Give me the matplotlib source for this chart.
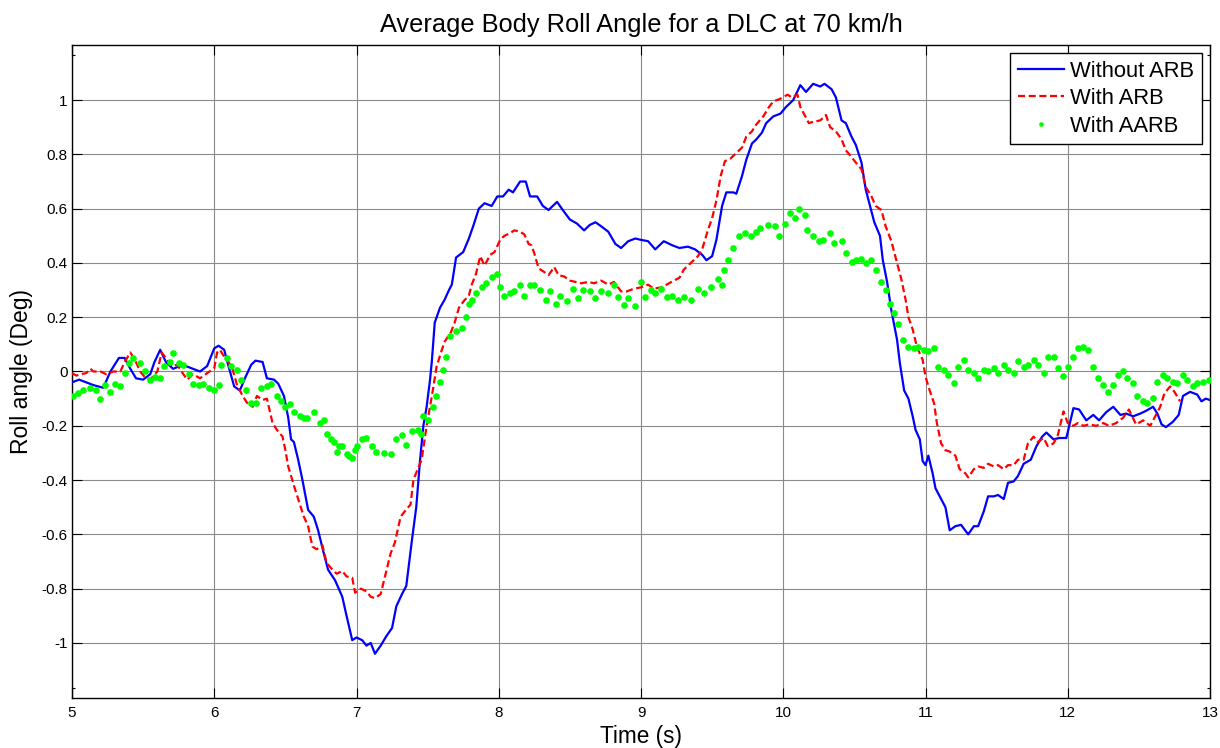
import matplotlib
matplotlib.use("Agg")
import matplotlib.pyplot as plt

plt.rcParams['font.family'] = ['Liberation Sans', 'DejaVu Sans']

# ---------------- data ----------------
t_without = [5.0, 5.05, 5.1, 5.15, 5.22, 5.27, 5.33, 5.37, 5.41, 5.45, 5.5, 5.55, 5.58, 5.62, 5.66,
             5.71, 5.76, 5.8, 5.85, 5.9, 5.95, 6.0, 6.03, 6.07, 6.1, 6.14, 6.18, 6.22, 6.26, 6.29,
             6.34, 6.37, 6.42, 6.45, 6.49, 6.52, 6.54, 6.56, 6.59, 6.62, 6.66, 6.7, 6.73, 6.77, 6.8,
             6.85, 6.9, 6.93, 6.97, 7.0, 7.04, 7.07, 7.1, 7.13, 7.17, 7.21, 7.25, 7.28, 7.32, 7.35,
             7.39, 7.42, 7.447, 7.47, 7.493, 7.517, 7.53, 7.55, 7.587, 7.62, 7.65, 7.67, 7.7, 7.75,
             7.79, 7.82, 7.86, 7.9, 7.95, 7.99, 8.03, 8.07, 8.1, 8.15, 8.19, 8.22, 8.27, 8.31, 8.35,
             8.41, 8.45, 8.5, 8.55, 8.6, 8.64, 8.68, 8.72, 8.77, 8.82, 8.86, 8.91, 8.96, 9.0, 9.05,
             9.1, 9.16, 9.22, 9.27, 9.33, 9.38, 9.43, 9.46, 9.5, 9.53, 9.57, 9.6, 9.65, 9.67, 9.71,
             9.74, 9.78, 9.81, 9.85, 9.88, 9.93, 9.98, 10.02, 10.07, 10.12, 10.16, 10.21, 10.26,
             10.29, 10.34, 10.37, 10.41, 10.44, 10.48, 10.51, 10.55, 10.58, 10.61, 10.64, 10.68,
             10.7, 10.73, 10.76, 10.8, 10.82, 10.85, 10.88, 10.91, 10.93, 10.96, 10.98, 11.0, 11.02,
             11.05, 11.07, 11.1, 11.14, 11.17, 11.21, 11.25, 11.3, 11.34, 11.37, 11.41, 11.44, 11.48,
             11.51, 11.55, 11.58, 11.62, 11.65, 11.69, 11.74, 11.78, 11.82, 11.85, 11.9, 11.94,
             11.99, 12.04, 12.08, 12.13, 12.18, 12.22, 12.27, 12.32, 12.37, 12.41, 12.46, 12.51,
             12.55, 12.6, 12.63, 12.66, 12.69, 12.74, 12.78, 12.81, 12.86, 12.91, 12.94, 12.97, 13.0]
v_without = [-0.04, -0.03, -0.04, -0.05, -0.06, 0.0, 0.05, 0.05, 0.01, -0.025, -0.03, -0.01, 0.035, 0.08, 0.035,
             0.01, 0.02, 0.02, 0.01, 0.0, 0.02, 0.085, 0.095, 0.08, 0.02, -0.055, -0.07, -0.02, 0.025, 0.04,
             0.035, -0.025, -0.03, -0.045, -0.09, -0.17, -0.25, -0.26, -0.325, -0.40, -0.51, -0.535, -0.585, -0.67, -0.73,
             -0.77, -0.83, -0.90, -0.99, -0.98, -0.99, -1.01, -1.0, -1.04, -1.01, -0.975, -0.945, -0.865, -0.82, -0.79,
             -0.62, -0.50, -0.325, -0.2, -0.13, -0.03, 0.04, 0.18, 0.235, 0.265, 0.3, 0.32, 0.42, 0.44,
             0.49, 0.535, 0.60, 0.62, 0.61, 0.645, 0.645, 0.67, 0.66, 0.70, 0.70, 0.645, 0.645, 0.61, 0.595,
             0.625, 0.595, 0.56, 0.545, 0.52, 0.54, 0.55, 0.535, 0.515, 0.47, 0.455, 0.48, 0.49, 0.485, 0.48,
             0.45, 0.48, 0.465, 0.455, 0.46, 0.45, 0.43, 0.41, 0.425, 0.485, 0.61, 0.66, 0.66, 0.655, 0.72,
             0.78, 0.84, 0.855, 0.88, 0.915, 0.94, 0.95, 0.975, 1.0, 1.055, 1.03, 1.06, 1.05,
             1.06, 1.04, 1.01, 0.925, 0.915, 0.865, 0.835, 0.77, 0.67, 0.61, 0.55, 0.50,
             0.41, 0.33, 0.225, 0.117, 0.03, -0.07, -0.10, -0.165, -0.215, -0.25, -0.33, -0.345, -0.31,
             -0.375, -0.43, -0.46, -0.50, -0.585, -0.57, -0.565, -0.60, -0.57, -0.57, -0.515, -0.46, -0.46,
             -0.455, -0.47, -0.41, -0.405, -0.385, -0.34, -0.325, -0.275, -0.24, -0.225, -0.25, -0.245,
             -0.245, -0.135, -0.14, -0.18, -0.16, -0.18, -0.15, -0.13, -0.16, -0.155, -0.165, -0.155,
             -0.145, -0.13, -0.155, -0.195, -0.205, -0.185, -0.16, -0.09, -0.075, -0.085, -0.11, -0.10, -0.105]

t_with = [5.0, 5.03, 5.06, 5.1, 5.13, 5.15, 5.2, 5.24, 5.29, 5.34, 5.37, 5.41, 5.44, 5.48, 5.51, 5.55,
          5.6, 5.63, 5.66, 5.7, 5.74, 5.77, 5.81, 5.85, 5.9, 5.95, 6.0, 6.02, 6.04, 6.07, 6.09, 6.13,
          6.16, 6.2, 6.23, 6.27, 6.3, 6.34, 6.37, 6.41, 6.44, 6.48, 6.5, 6.52, 6.56, 6.59, 6.63,
          6.66, 6.69, 6.72, 6.76, 6.79, 6.83, 6.86, 6.9, 6.93, 6.97, 6.99, 7.03, 7.07, 7.1, 7.13,
          7.17, 7.2, 7.24, 7.27, 7.31, 7.34, 7.38, 7.4, 7.43, 7.458, 7.493, 7.53, 7.563, 7.6, 7.62,
          7.645, 7.66, 7.69, 7.72, 7.755, 7.79, 7.81, 7.84, 7.87, 7.9, 7.94, 7.97, 8.01, 8.04, 8.08,
          8.11, 8.15, 8.18, 8.21, 8.23, 8.25, 8.28, 8.31, 8.35, 8.39, 8.42, 8.46, 8.5, 8.54, 8.58,
          8.63, 8.67, 8.72, 8.77, 8.81, 8.86, 8.9, 8.95, 9.0, 9.05, 9.09, 9.14, 9.18, 9.23, 9.27,
          9.3, 9.33, 9.36, 9.4, 9.43, 9.47, 9.5, 9.53, 9.56, 9.59, 9.63, 9.67, 9.71, 9.74, 9.78,
          9.81, 9.86, 9.9, 9.93, 9.98, 10.03, 10.06, 10.1, 10.12, 10.15, 10.18, 10.21, 10.26, 10.3,
          10.33, 10.37, 10.41, 10.44, 10.48, 10.51, 10.55, 10.58, 10.62, 10.65, 10.69, 10.72, 10.76,
          10.79, 10.83, 10.86, 10.88, 10.91, 10.94, 10.98, 11.0, 11.02, 11.06, 11.08, 11.11, 11.14,
          11.17, 11.21, 11.24, 11.28, 11.3, 11.34, 11.37, 11.41, 11.44, 11.48, 11.51, 11.55, 11.58,
          11.62, 11.65, 11.69, 11.72, 11.76, 11.79, 11.83, 11.86, 11.9, 11.93, 11.97, 12.0, 12.04,
          12.07, 12.11, 12.15, 12.2, 12.25, 12.29, 12.34, 12.39, 12.43, 12.48, 12.53, 12.58, 12.61,
          12.65, 12.68, 12.72, 12.75, 12.79]
v_with = [-0.006, -0.015, -0.01, -0.006, 0.01, 0.0, 0.0, -0.01, 0.0, 0.0, 0.035, 0.07, 0.045, 0.0, -0.02, -0.03,
          0.0, 0.07, 0.05, 0.02, 0.025, 0.0, -0.03, -0.01, -0.025, -0.006, 0.012, 0.07, 0.08, 0.055, 0.045, 0.006,
          -0.05, -0.09, -0.115, -0.13, -0.09, -0.105, -0.10, -0.19, -0.215, -0.24, -0.29, -0.35, -0.42, -0.47, -0.535,
          -0.57, -0.645, -0.655, -0.64, -0.705, -0.73, -0.745, -0.735, -0.755, -0.76, -0.815, -0.80, -0.81, -0.83, -0.835,
          -0.82, -0.755, -0.67, -0.63, -0.535, -0.515, -0.49, -0.40, -0.36, -0.325, -0.2, -0.09, 0.018, 0.08, 0.11,
          0.13, 0.14, 0.18, 0.235, 0.26, 0.28, 0.32, 0.36, 0.425, 0.39, 0.43, 0.44, 0.485, 0.50, 0.51,
          0.52, 0.515, 0.505, 0.47, 0.465, 0.435, 0.38, 0.37, 0.355, 0.385, 0.355, 0.35, 0.335, 0.33, 0.325,
          0.33, 0.325, 0.335, 0.32, 0.33, 0.295, 0.295, 0.305, 0.31, 0.32, 0.305, 0.31, 0.32, 0.335, 0.345,
          0.375, 0.39, 0.405, 0.425, 0.45, 0.52, 0.565, 0.63, 0.72, 0.775, 0.785, 0.805, 0.825, 0.865, 0.885,
          0.91, 0.94, 0.975, 0.995, 1.005, 1.02, 1.01, 1.02, 0.975, 0.945, 0.915, 0.92, 0.925, 0.945,
          0.90, 0.885, 0.855, 0.815, 0.79, 0.77, 0.745, 0.68, 0.645, 0.61, 0.595, 0.535, 0.48,
          0.42, 0.34, 0.265, 0.20, 0.155, 0.09, 0.043, -0.018, -0.055, -0.117, -0.19, -0.265, -0.29,
          -0.295, -0.31, -0.36, -0.375, -0.39, -0.36, -0.35, -0.355, -0.34, -0.35, -0.345, -0.36, -0.345,
          -0.345, -0.325, -0.325, -0.265, -0.24, -0.26, -0.245, -0.275, -0.265, -0.235, -0.147, -0.19, -0.20,
          -0.19, -0.20, -0.195, -0.20, -0.19, -0.20, -0.19, -0.17, -0.14, -0.195, -0.18, -0.20, -0.17,
          -0.13, -0.08, -0.055, -0.075, -0.11]

t_aarb = [5.01, 5.04, 5.08, 5.13, 5.17, 5.2, 5.23, 5.27, 5.3, 5.34, 5.37, 5.4, 5.43, 5.48, 5.51, 5.55,
          5.58, 5.62, 5.65, 5.69, 5.71, 5.75, 5.78, 5.82, 5.85, 5.89, 5.92, 5.96, 6.0, 6.03, 6.05, 6.09,
          6.12, 6.16, 6.19, 6.22, 6.26, 6.29, 6.33, 6.37, 6.4, 6.44, 6.47, 6.5, 6.53, 6.56, 6.6, 6.63,
          6.65, 6.7, 6.74, 6.77, 6.79, 6.82, 6.84, 6.86, 6.88, 6.9, 6.93, 6.95, 6.97, 6.99, 7.0, 7.04,
          7.07, 7.11, 7.14, 7.19, 7.24, 7.28, 7.32, 7.35, 7.39, 7.43, 7.45, 7.47, 7.5, 7.54, 7.56, 7.59,
          7.61, 7.63, 7.66, 7.7, 7.74, 7.77, 7.79, 7.81, 7.84, 7.88, 7.91, 7.95, 7.99, 8.01, 8.04, 8.08,
          8.11, 8.15, 8.18, 8.22, 8.25, 8.29, 8.33, 8.36, 8.4, 8.43, 8.48, 8.52, 8.56, 8.59, 8.64, 8.68,
          8.72, 8.77, 8.81, 8.84, 8.88, 8.91, 8.96, 9.0, 9.03, 9.07, 9.1, 9.14, 9.18, 9.22, 9.26, 9.3,
          9.35, 9.4, 9.44, 9.49, 9.54, 9.57, 9.58, 9.61, 9.65, 9.69, 9.73, 9.77, 9.81, 9.84, 9.89, 9.94,
          9.97, 10.01, 10.05, 10.08, 10.11, 10.15, 10.17, 10.21, 10.25, 10.28, 10.33, 10.36, 10.41,
          10.44, 10.48, 10.51, 10.55, 10.58, 10.62, 10.65, 10.69, 10.72, 10.75, 10.78, 10.81, 10.84,
          10.88, 10.92, 10.95, 10.99, 11.02, 11.06, 11.09, 11.13, 11.16, 11.2, 11.23, 11.27, 11.3,
          11.34, 11.37, 11.41, 11.44, 11.48, 11.51, 11.55, 11.58, 11.62, 11.65, 11.69, 11.72, 11.76,
          11.79, 11.83, 11.86, 11.9, 11.93, 11.97, 12.0, 12.04, 12.07, 12.11, 12.14, 12.18, 12.21,
          12.25, 12.28, 12.32, 12.35, 12.39, 12.42, 12.46, 12.49, 12.53, 12.56, 12.6, 12.63, 12.67,
          12.7, 12.74, 12.77, 12.81, 12.84, 12.88, 12.91, 12.95, 12.99]
v_aarb = [-0.09, -0.08, -0.07, -0.06, -0.07, -0.10, -0.05, -0.075, -0.045, -0.055, -0.006, 0.03, 0.05, 0.03, 0.0, -0.03,
          -0.02, -0.025, 0.02, 0.035, 0.07, 0.03, 0.025, -0.01, -0.045, -0.05, -0.045, -0.06, -0.07, -0.05, 0.025, 0.05,
          0.02, 0.006, -0.03, -0.07, -0.115, -0.115, -0.06, -0.055, -0.045, -0.09, -0.11, -0.13, -0.12, -0.15, -0.165, -0.17,
          -0.17, -0.15, -0.19, -0.18, -0.23, -0.25, -0.26, -0.295, -0.275, -0.275, -0.305, -0.31, -0.32, -0.29, -0.275, -0.25,
          -0.245, -0.275, -0.295, -0.30, -0.305, -0.25, -0.235, -0.27, -0.22, -0.215, -0.23, -0.165, -0.18, -0.13, -0.09, -0.04,
          0.006, 0.055, 0.13, 0.15, 0.16, 0.20, 0.25, 0.265, 0.29, 0.31, 0.325, 0.35, 0.36, 0.31, 0.28, 0.29,
          0.295, 0.32, 0.28, 0.32, 0.32, 0.30, 0.265, 0.295, 0.25, 0.28, 0.26, 0.305, 0.27, 0.30, 0.295, 0.27,
          0.295, 0.29, 0.32, 0.275, 0.245, 0.27, 0.24, 0.33, 0.275, 0.30, 0.29, 0.305, 0.275, 0.28, 0.265, 0.275,
          0.265, 0.305, 0.29, 0.31, 0.34, 0.32, 0.375, 0.41, 0.455, 0.50, 0.51, 0.50, 0.515, 0.53, 0.54, 0.535,
          0.50, 0.545, 0.585, 0.565, 0.60, 0.575, 0.52, 0.50, 0.48, 0.485, 0.51, 0.475, 0.48,
          0.435, 0.405, 0.41, 0.415, 0.40, 0.41, 0.375, 0.33, 0.30, 0.25, 0.215, 0.175, 0.115,
          0.09, 0.085, 0.09, 0.08, 0.075, 0.085, 0.018, 0.006, -0.012, -0.043, 0.018, 0.043, 0.006,
          -0.006, -0.025, 0.006, 0.0, 0.012, -0.006, 0.025, 0.006, -0.006, 0.037, 0.018, 0.025, 0.043,
          0.025, -0.006, 0.055, 0.055, 0.012, -0.018, 0.018, 0.055, 0.085, 0.092, 0.08, 0.018, -0.025,
          -0.05, -0.075, -0.05, -0.012, 0.0, -0.025, -0.043, -0.092, -0.11, -0.117, -0.098, -0.037, -0.012,
          -0.025, -0.037, -0.043, -0.012, -0.03, -0.055, -0.043, -0.037, -0.03]

x_ticks = [5, 6, 7, 8, 9, 10, 11, 12, 13]
y_ticks = [-1, -0.8, -0.6, -0.4, -0.2, 0, 0.2, 0.4, 0.6, 0.8, 1]
y_tick_labels = ['-1', '-0.8', '-0.6', '-0.4', '-0.2', '0', '0.2', '0.4', '0.6', '0.8', '1']
series_names = ['Without ARB', 'With ARB', 'With AARB']

# ---------------- figure ----------------
W, H = 1220, 748
fig = plt.figure(figsize=(W / 100, H / 100), dpi=100)
ax = fig.add_axes([72 / W, 1 - 698 / H, (1210 - 72) / W, (698 - 45) / H])

ax.plot(t_without, v_without, color='#0000FF', lw=1.6, label=series_names[0], zorder=3)
ax.plot(t_with, v_with, color='#FF0000', lw=1.6, ls=(0, (3.2, 1.6)), label=series_names[1], zorder=4)
ax.plot(t_aarb, v_aarb, ls='none', marker='o', ms=4.8, mfc='#00FF00', mec='#00FF00',
        mew=0, label=series_names[2], zorder=5)

ax.set_xlim(5, 13)
ax.set_ylim(-1.203, 1.203)
ax.set_xticks(x_ticks)
ax.set_xticklabels([str(x) for x in x_ticks])
ax.set_yticks(y_ticks)
ax.set_yticklabels(y_tick_labels)
ax.set_yticks([-1.166, 1.166], minor=True)

ax.grid(True, which='major', color='#8a8a8a', lw=0.8, ls='-')
ax.set_axisbelow(True)
ax.tick_params(which='major', direction='in', length=7.5, width=0.8, top=True, right=True,
               labelsize=11, colors='black')
ax.tick_params(axis='x', which='major', pad=6)
ax.tick_params(axis='y', which='major', pad=3)
ax.tick_params(which='minor', direction='in', length=2, width=0.8, left=True, right=True)
for s in ax.spines.values():
    s.set_linewidth(1.0)
    s.set_color('black')

ax.set_title('Average Body Roll Angle for a DLC at 70 km/h', fontsize=18.3, pad=9)
ax.set_xlabel('Time (s)', fontsize=16.3, labelpad=3)
ax.set_ylabel('Roll angle (Deg)', fontsize=16.5, labelpad=6)

leg = ax.legend(loc='upper right', fontsize=15.8, frameon=True, fancybox=False,
                edgecolor='black', framealpha=1, borderaxespad=0.36, handlelength=2.1,
                handletextpad=0.28, labelspacing=0.3, borderpad=0.35, markerscale=0.7)
leg.get_frame().set_linewidth(1.0)

fig.savefig('out.png', dpi=100, facecolor='white')
